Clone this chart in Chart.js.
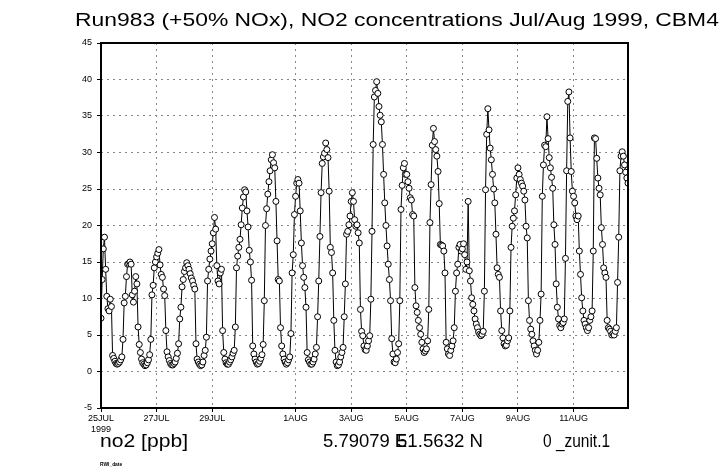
<!DOCTYPE html>
<html>
<head>
<meta charset="utf-8">
<script src="https://cdn.jsdelivr.net/npm/chart.js@4.4.1/dist/chart.umd.min.js"></script>
<style>
  html, body { margin: 0; padding: 0; background: #fff; }
  #wrap { position: relative; width: 721px; height: 471px; overflow: hidden;
          font-family: "Liberation Sans", Arial, sans-serif; color: #000; }
  #wrap canvas { position: absolute; left: 0; top: 0; }
  .txt { position: absolute; white-space: nowrap; line-height: 1; transform-origin: 0 0; }
</style>
</head>
<body>
<div id="wrap">
  <canvas id="chart" width="721" height="471"></canvas>
  <div class="txt" data-w="644" style="left:75px; top:10px; font-size:19px;">Run983 (+50% NOx), NO2 concentrations Jul/Aug 1999, CBM4</div>
  <div class="txt" data-w="88" style="left:100px; top:432px; font-size:18px;">no2 [ppb]</div>
  <div class="txt" data-w="84" style="left:323px; top:432px; font-size:18px;">5.79079 E</div>
  <div class="txt" data-w="86" style="left:397px; top:432px; font-size:18px;">51.5632 N</div>
  <div class="txt" data-w="67" style="left:543px; top:432px; font-size:18px;">0 _zunit.1</div>
  <div class="txt" data-w="22" style="left:100px; top:461px; font-size:6px; font-weight:bold;">RWI_date</div>
</div>
<script>
// hourly NO2 [ppb], 25 Jul 00h .. 12 Aug 23h 1999, one row per day
const no2 = [
  7.3, 12.6, 16.8, 18.4, 14.0, 10.3, 8.6, 8.3, 9.9, 8.9, 2.2, 1.8, 1.4, 1.1, 1.0, 1.1, 1.3, 1.6, 2.0, 4.4, 9.4, 10.3, 13.0, 14.7,
  14.8, 15.0, 14.7, 10.5, 9.5, 11.0, 13.0, 12.0, 6.1, 3.7, 2.6, 1.7, 1.2, 1.0, 0.8, 0.9, 1.2, 1.6, 2.3, 4.4, 10.5, 11.8, 14.2, 15.0,
  15.7, 16.2, 16.7, 14.6, 13.3, 12.9, 11.3, 10.4, 5.6, 2.7, 2.0, 1.5, 1.1, 0.9, 0.9, 1.1, 1.3, 1.8, 2.5, 3.8, 7.2, 8.8, 11.6, 12.6,
  13.7, 14.2, 14.9, 14.5, 14.0, 13.4, 12.8, 12.4, 11.8, 11.3, 3.8, 1.7, 1.3, 1.0, 0.8, 0.9, 1.3, 2.2, 2.9, 4.7, 12.4, 14.0, 15.4, 16.5,
  17.5, 19.0, 21.1, 19.5, 14.5, 12.4, 12.0, 13.5, 14.0, 5.6, 2.6, 1.7, 1.2, 1.0, 1.0, 1.3, 1.6, 2.0, 2.5, 2.9, 6.1, 14.2, 15.8, 17.0,
  18.1, 20.1, 22.4, 23.9, 24.9, 24.6, 22.0, 19.8, 16.6, 15.0, 12.5, 3.5, 2.4, 1.7, 1.3, 1.0, 1.1, 1.4, 1.8, 2.3, 3.7, 9.7, 20.0, 22.3,
  24.3, 26.0, 27.5, 29.0, 29.7, 28.6, 27.9, 23.3, 17.9, 12.6, 12.4, 6.0, 3.5, 2.4, 1.7, 1.3, 1.0, 1.2, 1.6, 2.0, 5.2, 13.5, 16.0, 21.5,
  24.0, 25.8, 26.3, 25.8, 22.0, 17.6, 14.5, 12.9, 11.5, 8.8, 2.6, 1.6, 1.3, 1.0, 1.0, 1.3, 1.7, 2.4, 3.3, 7.5, 12.4, 18.5, 24.5, 28.5,
  29.4, 29.9, 31.3, 30.4, 29.3, 24.7, 17.0, 16.3, 13.5, 7.0, 2.9, 1.3, 0.8, 0.9, 1.3, 2.0, 2.6, 3.3, 7.5, 12.0, 18.8, 19.2, 20.1, 21.3,
  23.3, 24.5, 23.3, 20.8, 19.9, 20.1, 19.0, 17.6, 8.5, 5.5, 4.9, 3.5, 3.0, 2.9, 3.5, 4.2, 4.9, 9.9, 19.2, 31.1, 37.6, 38.5, 39.7, 38.1,
  36.3, 35.1, 34.2, 31.1, 27.0, 23.1, 20.0, 17.2, 14.7, 12.6, 9.7, 4.5, 2.4, 1.3, 1.2, 1.7, 2.6, 3.8, 9.7, 22.2, 25.5, 27.9, 28.5, 27.0,
  27.0, 26.0, 25.1, 23.8, 23.5, 21.5, 21.3, 11.5, 9.0, 8.1, 7.0, 6.0, 5.1, 4.0, 3.1, 2.6, 2.8, 3.1, 4.2, 8.5, 20.4, 25.6, 31.0, 33.3,
  31.5, 30.4, 29.5, 27.4, 23.0, 17.4, 17.3, 17.2, 16.5, 13.5, 4.0, 3.1, 2.4, 2.2, 2.9, 3.5, 4.2, 6.0, 11.0, 13.5, 14.7, 17.0, 17.4, 16.5,
  16.8, 17.5, 16.0, 14.0, 15.0, 23.3, 13.8, 12.4, 10.1, 9.2, 8.3, 7.2, 6.5, 6.0, 5.4, 5.1, 4.9, 5.1, 5.5, 11.0, 24.9, 32.5, 36.0, 33.1,
  30.6, 29.0, 27.0, 25.0, 23.1, 18.8, 14.2, 13.3, 12.9, 8.3, 5.6, 4.6, 3.8, 3.5, 3.6, 4.2, 4.6, 8.3, 17.0, 19.9, 21.0, 22.0, 24.2, 26.5,
  27.9, 27.0, 26.3, 25.8, 25.4, 24.7, 23.5, 19.9, 18.3, 9.7, 7.0, 5.8, 5.1, 4.2, 3.5, 2.9, 2.4, 2.9, 4.0, 7.0, 10.6, 24.0, 28.3, 31.0,
  30.8, 34.9, 31.9, 29.3, 27.9, 26.6, 25.1, 20.1, 17.4, 12.0, 8.8, 7.2, 6.3, 6.0, 6.5, 6.7, 7.2, 15.5, 27.5, 37.0, 38.3, 32.0, 27.4, 24.7,
  24.0, 23.1, 21.3, 20.8, 21.3, 16.5, 13.3, 10.1, 8.3, 7.0, 6.5, 6.0, 5.6, 6.0, 7.0, 7.5, 8.3, 16.5, 32.0, 31.9, 29.2, 26.5, 25.1, 24.2,
  19.7, 17.4, 14.2, 13.5, 12.9, 7.0, 6.0, 5.8, 5.5, 5.0, 5.2, 5.0, 5.5, 6.0, 12.2, 18.4, 27.5, 29.5, 30.1, 29.5, 28.3, 27.3, 26.5, 25.8
];

// time axis labels (hour index from 25 Jul 00h)
const tickHours = [0, 48, 96, 168, 216, 264, 312, 360, 408];
const tickLabels = [['25JUL', '1999'], '27JUL', '29JUL', '1AUG', '3AUG', '5AUG', '7AUG', '9AUG', '11AUG'];

const yMin = -5, yMax = 45, yStep = 5;

const tickFont = { family: '"Liberation Sans Narrow", "Liberation Sans", Arial, sans-serif', size: 9 };

// stretch html texts to the widths seen in the original
document.querySelectorAll('.txt[data-w]').forEach(el => {
    const w = Number(el.dataset.w);
    el.style.transform = 'scaleX(' + (w / el.offsetWidth) + ')';
});

// heavy frame round the plot area
const framePlugin = {
    id: 'frame',
    afterDatasetsDraw(chart) {
        const a = chart.chartArea;
        const ctx = chart.ctx;
        ctx.save();
        ctx.strokeStyle = '#000';
        ctx.lineWidth = 2;
        ctx.strokeRect(a.left, a.top, a.right - a.left, a.bottom - a.top);
        ctx.restore();
    }
};

new Chart(document.getElementById('chart'), {
    type: 'line',
    data: {
        datasets: [{
            data: no2.map((v, i) => ({ x: i, y: v })),
            borderColor: '#000',
            borderWidth: 1,
            pointRadius: 3,
            pointBackgroundColor: '#fff',
            pointBorderColor: '#000',
            pointBorderWidth: 1,
            tension: 0
        }]
    },
    options: {
        responsive: false,
        animation: false,
        layout: { padding: { left: 0, top: 43, right: 93, bottom: 33 } },
        plugins: { legend: { display: false }, tooltip: { enabled: false } },
        scales: {
            x: {
                type: 'linear',
                min: 0,
                max: no2.length - 1,
                afterBuildTicks: scale => { scale.ticks = tickHours.map(h => ({ value: h })); },
                afterFit: scale => { scale.height = 30; },
                ticks: {
                    autoSkip: false,
                    maxRotation: 0,
                    padding: 1,
                    color: '#000',
                    font: tickFont,
                    callback: (value) => tickLabels[tickHours.indexOf(value)]
                },
                grid: { color: '#888', lineWidth: 1, tickLength: 4, tickColor: '#000', tickBorderDash: [] },
                border: { display: false, dash: [2, 4] }
            },
            y: {
                min: yMin,
                max: yMax,
                afterFit: scale => { scale.width = 101; },
                ticks: { stepSize: yStep, padding: 5, color: '#000', font: tickFont },
                grid: { color: '#888', lineWidth: 1, tickLength: 4, tickColor: '#000', tickBorderDash: [] },
                border: { display: false, dash: [2, 4] }
            }
        }
    },
    plugins: [framePlugin]
});
</script>
</body>
</html>
